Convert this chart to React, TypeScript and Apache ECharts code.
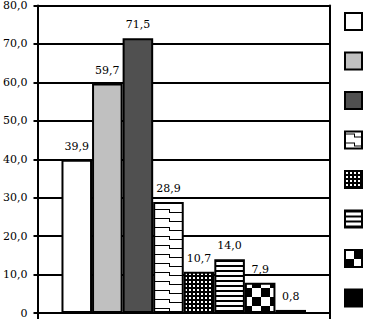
import React, { useEffect, useRef } from "react";
import * as echarts from "echarts";

const seriesNames = ["S1", "S2", "S3", "S4", "S5", "S6", "S7", "S8"];
const values = [39.9, 59.7, 71.5, 28.9, 10.7, 14.0, 7.9, 0.8];
const category = [""];
const yMin = 0;
const yMax = 80;
const yInterval = 10;

const fmt = (v: number) => (v === 0 ? "0" : v.toFixed(1).replace(".", ","));

function tile(w: number, h: number, draw: (c: CanvasRenderingContext2D) => void) {
  const cv = document.createElement("canvas");
  cv.width = w;
  cv.height = h;
  const c = cv.getContext("2d")!;
  draw(c);
  return { image: cv, repeat: "repeat", imageWidth: w, imageHeight: h } as any;
}

function makeFills() {
  const wavy = tile(32, 9, (c) => {
    c.fillStyle = "#fff";
    c.fillRect(0, 0, 32, 9);
    c.fillStyle = "#000";
    c.fillRect(0, 2, 9, 1);
    c.fillRect(9, 2, 1, 4);
    c.fillRect(9, 5, 13, 1);
    c.fillRect(22, 2, 1, 4);
    c.fillRect(22, 2, 10, 1);
  });
  const dots = tile(4, 4, (c) => {
    c.fillStyle = "#000";
    c.fillRect(0, 0, 4, 4);
    c.fillStyle = "#fff";
    c.fillRect(1, 1, 2, 2);
  });
  const stripes = tile(4, 5, (c) => {
    c.fillStyle = "#fff";
    c.fillRect(0, 0, 4, 5);
    c.fillStyle = "#000";
    c.fillRect(0, 0, 4, 2);
  });
  const checker = tile(18, 18, (c) => {
    c.fillStyle = "#fff";
    c.fillRect(0, 0, 18, 18);
    c.fillStyle = "#000";
    c.fillRect(9, 0, 9, 9);
    c.fillRect(0, 9, 9, 9);
  });
  return ["#ffffff", "#c0c0c0", "#505050", wavy, dots, stripes, checker, "#000000"];
}

export default function App() {
  const ref = useRef<HTMLDivElement>(null);
  useEffect(() => {
    document.body.style.margin = "0";
    const chart = echarts.init(ref.current!, undefined, { renderer: "svg" });
    const fills = makeFills();
    const font = "DejaVu Serif";
    chart.setOption({
      animation: false,
      backgroundColor: "#fff",
      grid: { left: 37, right: 35, top: 5, bottom: 8, containLabel: false },
      legend: {
        orient: "vertical",
        left: 344,
        top: 12,
        padding: 0,
        itemWidth: 17,
        itemHeight: 17,
        itemGap: 20.5,
        icon: "rect",
        formatter: () => "",
        selectedMode: false,
        data: seriesNames,
      },
      xAxis: {
        type: "category",
        data: category,
        axisLine: { lineStyle: { color: "#000", width: 2 } },
        axisTick: { show: true, length: 6, lineStyle: { color: "#000", width: 2 } },
        axisLabel: { show: false },
        splitLine: { show: false },
      },
      yAxis: [
        {
          type: "value",
          min: yMin,
          max: yMax,
          interval: yInterval,
          axisLine: { show: true, lineStyle: { color: "#000", width: 2 } },
          axisTick: { show: true, length: 4, lineStyle: { color: "#000", width: 2 } },
          axisLabel: {
            margin: 10,
            color: "#000",
            fontFamily: font,
            fontSize: 11,
            formatter: fmt,
          },
          splitLine: { show: true, lineStyle: { color: "#000", width: 2 } },
        },
        {
          type: "value",
          position: "right",
          min: yMin,
          max: yMax,
          interval: yInterval,
          axisLine: { show: true, lineStyle: { color: "#000", width: 2 } },
          axisTick: { show: false },
          axisLabel: { show: false },
          splitLine: { show: false },
        },
      ],
      series: seriesNames.map((name, i) => ({
        name,
        type: "bar",
        yAxisIndex: 0,
        data: [values[i]],
        barGap: "0%",
        barCategoryGap: "16.4%",
        itemStyle: { color: fills[i], borderColor: "#000", borderWidth: 2 },
        label: {
          show: true,
          position: "top",
          distance: 8,
          color: "#000",
          fontFamily: font,
          fontSize: 11,
          formatter: (p: any) => fmt(p.value),
        },
      })),
    });
    return () => chart.dispose();
  }, []);
  return <div ref={ref} style={{ width: 365, height: 321 }} />;
}
